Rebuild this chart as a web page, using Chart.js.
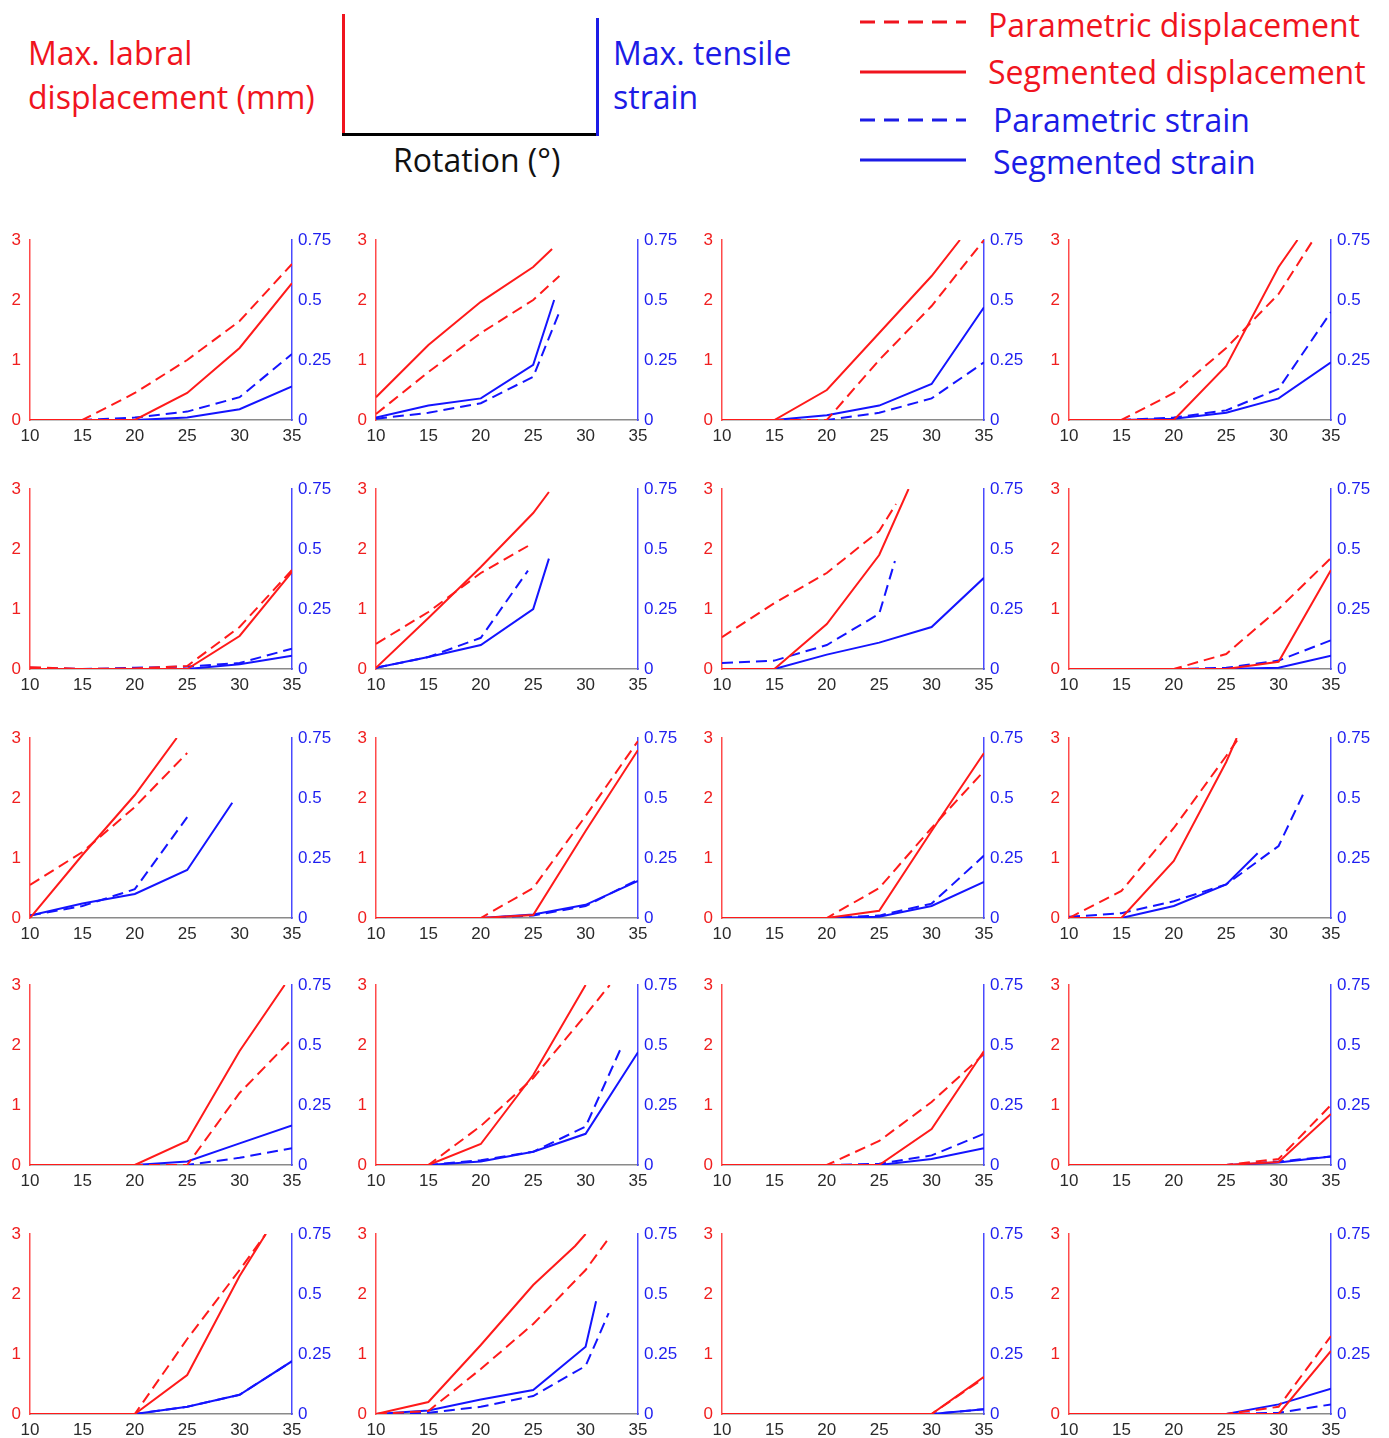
<!DOCTYPE html>
<html>
<head>
<meta charset="utf-8">
<script src="https://cdn.jsdelivr.net/npm/chart.js@4/dist/chart.umd.min.js"></script>
<style>
  body { margin: 0; background: #fff; }
  #page { position: relative; width: 1389px; height: 1438px; overflow: hidden; font-family: "Open Sans", sans-serif; }
  .lbl { position: absolute; font-size: 32px; line-height: 44px; white-space: nowrap; }
  .red { color: #f0141e; }
  .blue { color: #1c1ce6; }
  .bar { position: absolute; }
  canvas { position: absolute; }
</style>
</head>
<body>
<div id="page">
  <!-- axis key -->
  <div class="lbl red" style="left:28px; top:31px;">Max. labral<br>displacement (mm)</div>
  <div class="bar" style="left:342px; top:14px; width:3px; height:122px; background:#f0141e;"></div>
  <div class="bar" style="left:342px; top:133px; width:257px; height:3px; background:#000;"></div>
  <div class="bar" style="left:596px; top:18px; width:3px; height:118px; background:#1c1ce6;"></div>
  <div class="lbl" style="left:393px; top:138px; color:#111;">Rotation (°)</div>
  <div class="lbl blue" style="left:613px; top:31px;">Max. tensile<br>strain</div>

  <!-- series key -->
  <svg style="position:absolute; left:0; top:0;" width="1389" height="190">
    <line x1="860" y1="22" x2="966" y2="22" stroke="#f0141e" stroke-width="3" stroke-dasharray="15,9"/>
    <line x1="860" y1="72" x2="966" y2="72" stroke="#f0141e" stroke-width="3"/>
    <line x1="860" y1="120" x2="966" y2="120" stroke="#1c1ce6" stroke-width="3" stroke-dasharray="15,9"/>
    <line x1="860" y1="160" x2="966" y2="160" stroke="#1c1ce6" stroke-width="3"/>
  </svg>
  <div class="lbl red" style="left:988px; top:3px;">Parametric displacement</div>
  <div class="lbl red" style="left:988px; top:50px;">Segmented displacement</div>
  <div class="lbl blue" style="left:993px; top:98px;">Parametric strain</div>
  <div class="lbl blue" style="left:993px; top:140px;">Segmented strain</div>
</div>

<script>
const xTicks = [10, 15, 20, 25, 30, 35];
const dispTicks = [0, 1, 2, 3];
const strainTicks = [0, 0.25, 0.5, 0.75];

// one entry per panel, row by row: [rotation, value]
const parametricDisplacement = [
  [[10, 0], [15, 0], [20, 0.45], [25, 1.0], [30, 1.65], [35, 2.6]],
  [[10, 0.1], [15, 0.8], [20, 1.45], [25, 2.0], [27.5, 2.4]],
  [[10, 0], [15, 0], [20, 0], [25, 1.0], [30, 1.9], [35, 3.0]],
  [[10, 0], [15, 0], [20, 0.45], [25, 1.2], [30, 2.1], [33.3, 3.0]],
  [[10, 0.03], [15, 0], [20, 0.01], [25, 0.05], [30, 0.7], [35, 1.65]],
  [[10, 0.42], [15, 0.95], [20, 1.6], [24.5, 2.05]],
  [[10, 0.53], [15, 1.1], [20, 1.6], [25, 2.3], [26.6, 2.75]],
  [[10, 0], [15, 0], [20, 0], [25, 0.25], [30, 1.0], [35, 1.85]],
  [[10, 0.55], [15, 1.1], [20, 1.85], [25, 2.75]],
  [[10, 0], [15, 0], [20, 0], [25, 0.5], [30, 1.7], [35, 2.95]],
  [[10, 0], [15, 0], [20, 0], [25, 0.5], [30, 1.5], [35, 2.45]],
  [[10, 0], [15, 0.45], [20, 1.5], [25, 2.7], [26.2, 3.0]],
  [[10, 0], [15, 0], [20, 0], [25, 0], [30, 1.2], [35, 2.1]],
  [[10, 0], [15, 0], [20, 0.65], [25, 1.45], [30, 2.5], [32.3, 3.0]],
  [[10, 0], [15, 0], [20, 0], [25, 0.4], [30, 1.05], [35, 1.85]],
  [[10, 0], [15, 0], [20, 0], [25, 0], [30, 0.1], [35, 1.0]],
  [[10, 0], [15, 0], [20, 0], [25, 1.25], [30, 2.4], [32.5, 3.0]],
  [[10, 0], [15, 0.05], [20, 0.75], [25, 1.5], [30, 2.4], [32.3, 2.95]],
  [[10, 0], [15, 0], [20, 0], [25, 0], [30, 0], [35, 0.6]],
  [[10, 0], [15, 0], [20, 0], [25, 0], [30, 0.12], [35, 1.3]]
];

const segmentedDisplacement = [
  [[10, 0], [15, 0], [20, 0], [25, 0.45], [30, 1.2], [35, 2.28]],
  [[10, 0.38], [15, 1.25], [20, 1.97], [25, 2.55], [26.8, 2.85]],
  [[10, 0], [15, 0], [20, 0.5], [25, 1.45], [30, 2.4], [32.7, 3.0]],
  [[10, 0], [15, 0], [20, 0], [25, 0.9], [30, 2.55], [31.8, 3.0]],
  [[10, 0], [15, 0], [20, 0], [25, 0], [30, 0.55], [35, 1.62]],
  [[10, 0.02], [15, 0.85], [20, 1.7], [25, 2.6], [26.5, 2.95]],
  [[10, 0], [15, 0], [20, 0.75], [25, 1.9], [27.8, 3.0]],
  [[10, 0], [15, 0], [20, 0], [25, 0], [30, 0.12], [35, 1.65]],
  [[10, 0], [15, 1.05], [20, 2.05], [24, 3.0]],
  [[10, 0], [15, 0], [20, 0], [25, 0.05], [30, 1.45], [35, 2.8]],
  [[10, 0], [15, 0], [20, 0], [25, 0.12], [30, 1.45], [35, 2.75]],
  [[10, 0], [15, 0], [20, 0.95], [25, 2.6], [26, 3.0]],
  [[10, 0], [15, 0], [20, 0], [25, 0.4], [30, 1.9], [34.3, 3.0]],
  [[10, 0], [15, 0], [20, 0.35], [25, 1.5], [30, 3.0]],
  [[10, 0], [15, 0], [20, 0], [25, 0], [30, 0.6], [35, 1.9]],
  [[10, 0], [15, 0], [20, 0], [25, 0], [30, 0.05], [35, 0.85]],
  [[10, 0], [15, 0], [20, 0], [25, 0.65], [30, 2.3], [32.5, 3.0]],
  [[10, 0], [15, 0.2], [20, 1.15], [25, 2.15], [29, 2.8], [30, 3.0]],
  [[10, 0], [15, 0], [20, 0], [25, 0], [30, 0], [35, 0.62]],
  [[10, 0], [15, 0], [20, 0], [25, 0], [30, 0], [35, 1.05]]
];

const parametricStrain = [
  [[10, 0], [15, 0], [20, 0.01], [25, 0.035], [30, 0.095], [35, 0.275]],
  [[10, 0.005], [15, 0.03], [20, 0.07], [25, 0.18], [27.5, 0.45]],
  [[10, 0], [15, 0], [20, 0], [25, 0.03], [30, 0.09], [35, 0.24]],
  [[10, 0], [15, 0], [20, 0.01], [25, 0.04], [30, 0.13], [35, 0.45]],
  [[10, 0.005], [15, 0], [20, 0.005], [25, 0.01], [30, 0.025], [35, 0.085]],
  [[10, 0.005], [15, 0.05], [20, 0.13], [24.5, 0.41]],
  [[10, 0.025], [15, 0.035], [20, 0.1], [25, 0.23], [26.5, 0.45]],
  [[10, 0], [15, 0], [20, 0], [25, 0.005], [30, 0.035], [35, 0.12]],
  [[10, 0.01], [15, 0.05], [20, 0.12], [25, 0.42]],
  [[10, 0], [15, 0], [20, 0], [25, 0.01], [30, 0.05], [35, 0.16]],
  [[10, 0], [15, 0], [20, 0], [25, 0.01], [30, 0.06], [35, 0.26]],
  [[10, 0.005], [15, 0.02], [20, 0.07], [25, 0.14], [30, 0.3], [32.5, 0.53]],
  [[10, 0], [15, 0], [20, 0], [25, 0], [30, 0.03], [35, 0.07]],
  [[10, 0], [15, 0], [20, 0.02], [25, 0.055], [30, 0.16], [33.3, 0.48]],
  [[10, 0], [15, 0], [20, 0], [25, 0.005], [30, 0.04], [35, 0.13]],
  [[10, 0], [15, 0], [20, 0], [25, 0], [30, 0.015], [35, 0.035]],
  [[10, 0], [15, 0], [20, 0], [25, 0.03], [30, 0.08], [35, 0.22]],
  [[10, 0], [15, 0.005], [20, 0.03], [25, 0.075], [30, 0.2], [32.2, 0.42]],
  [[10, 0], [15, 0], [20, 0], [25, 0], [30, 0], [35, 0.02]],
  [[10, 0], [15, 0], [20, 0], [25, 0], [30, 0.005], [35, 0.04]]
];

const segmentedStrain = [
  [[10, 0], [15, 0], [20, 0], [25, 0.01], [30, 0.045], [35, 0.14]],
  [[10, 0.01], [15, 0.06], [20, 0.09], [25, 0.23], [27, 0.5]],
  [[10, 0], [15, 0], [20, 0.02], [25, 0.06], [30, 0.15], [35, 0.47]],
  [[10, 0], [15, 0], [20, 0.005], [25, 0.03], [30, 0.09], [35, 0.24]],
  [[10, 0], [15, 0], [20, 0], [25, 0], [30, 0.02], [35, 0.055]],
  [[10, 0.005], [15, 0.05], [20, 0.1], [25, 0.25], [26.5, 0.46]],
  [[10, 0], [15, 0], [20, 0.06], [25, 0.11], [30, 0.175], [35, 0.38]],
  [[10, 0], [15, 0], [20, 0], [25, 0], [30, 0.005], [35, 0.055]],
  [[10, 0.01], [15, 0.06], [20, 0.1], [25, 0.2], [29.3, 0.48]],
  [[10, 0], [15, 0], [20, 0], [25, 0.015], [30, 0.055], [35, 0.155]],
  [[10, 0], [15, 0], [20, 0], [25, 0.005], [30, 0.05], [35, 0.15]],
  [[10, 0], [15, 0], [20, 0.05], [25, 0.14], [28, 0.27]],
  [[10, 0], [15, 0], [20, 0], [25, 0.015], [30, 0.09], [35, 0.165]],
  [[10, 0], [15, 0], [20, 0.015], [25, 0.055], [30, 0.13], [35, 0.47]],
  [[10, 0], [15, 0], [20, 0], [25, 0], [30, 0.025], [35, 0.07]],
  [[10, 0], [15, 0], [20, 0], [25, 0], [30, 0.01], [35, 0.035]],
  [[10, 0], [15, 0], [20, 0], [25, 0.03], [30, 0.08], [35, 0.22]],
  [[10, 0], [15, 0.015], [20, 0.06], [25, 0.1], [30, 0.28], [31, 0.47]],
  [[10, 0], [15, 0], [20, 0], [25, 0], [30, 0], [35, 0.02]],
  [[10, 0], [15, 0], [20, 0], [25, 0], [30, 0.04], [35, 0.105]]
];

// panel grid (plot area corners)
const plotLefts = [30, 376, 722, 1069];
const plotTops = [240, 489, 738, 985, 1234];
const plotW = 262, plotH = 180;
const padL = 30, padR = 50, padT = 12, padB = 30;

const RED = '#ff1a1a';
const BLUE = '#1414ff';
const tickFont = { family: '"Liberation Sans", Arial, sans-serif', size: 17 };

function toPoints(pairs) {
  return pairs.map(p => ({ x: p[0], y: p[1] }));
}

function makeLine(pairs, color, dashed, axis) {
  return {
    data: toPoints(pairs),
    borderColor: color,
    borderWidth: 2,
    borderDash: dashed ? [11, 6] : [],
    pointRadius: 0,
    tension: 0,
    fill: false,
    yAxisID: axis
  };
}

// keep the plot box fixed: fixed width and small vertical overhang
function fixYAxis(width) {
  return scale => {
    scale.width = width;
    scale.paddingTop = 8;
    scale.paddingBottom = 8;
  };
}

function buildPanel(i) {
  const row = Math.floor(i / 4);
  const col = i % 4;
  const canvas = document.createElement('canvas');
  canvas.width = padL + plotW + padR;
  canvas.height = padT + plotH + padB;
  canvas.style.left = (plotLefts[col] - padL) + 'px';
  canvas.style.top = (plotTops[row] - padT) + 'px';
  document.getElementById('page').appendChild(canvas);

  new Chart(canvas.getContext('2d'), {
    type: 'line',
    data: {
      datasets: [
        makeLine(parametricDisplacement[i], RED, true, 'yL'),
        makeLine(segmentedDisplacement[i], RED, false, 'yL'),
        makeLine(parametricStrain[i], BLUE, true, 'yR'),
        makeLine(segmentedStrain[i], BLUE, false, 'yR')
      ]
    },
    options: {
      responsive: false,
      animation: false,
      devicePixelRatio: 1,
      layout: { padding: { top: padT, left: 0, right: 0, bottom: 0 } },
      plugins: { legend: { display: false }, tooltip: { enabled: false } },
      scales: {
        x: {
          type: 'linear',
          min: xTicks[0],
          max: xTicks[xTicks.length - 1],
          afterBuildTicks: scale => { scale.ticks = xTicks.map(v => ({ value: v })); },
          afterFit: scale => { scale.height = padB; },
          grid: { display: false, drawTicks: false },
          border: { display: true, color: '#8a8a8a', width: 1.5 },
          ticks: { color: '#2a2a2a', font: tickFont, padding: 6, maxRotation: 0 }
        },
        yL: {
          position: 'left',
          min: dispTicks[0],
          max: dispTicks[dispTicks.length - 1],
          afterBuildTicks: scale => { scale.ticks = dispTicks.map(v => ({ value: v })); },
          afterFit: fixYAxis(padL),
          grid: { display: false, drawTicks: false },
          border: { display: true, color: '#ff4a4a', width: 1.5 },
          ticks: { color: '#f01e1e', font: tickFont, padding: 9, callback: v => String(v) }
        },
        yR: {
          position: 'right',
          min: strainTicks[0],
          max: strainTicks[strainTicks.length - 1],
          afterBuildTicks: scale => { scale.ticks = strainTicks.map(v => ({ value: v })); },
          afterFit: fixYAxis(padR),
          grid: { display: false, drawTicks: false },
          border: { display: true, color: '#4a4aff', width: 1.5 },
          ticks: { color: '#1e1ef0', font: tickFont, padding: 6, callback: v => String(v) }
        }
      }
    }
  });
}

for (let i = 0; i < parametricDisplacement.length; i++) {
  buildPanel(i);
}
</script>
</body>
</html>
